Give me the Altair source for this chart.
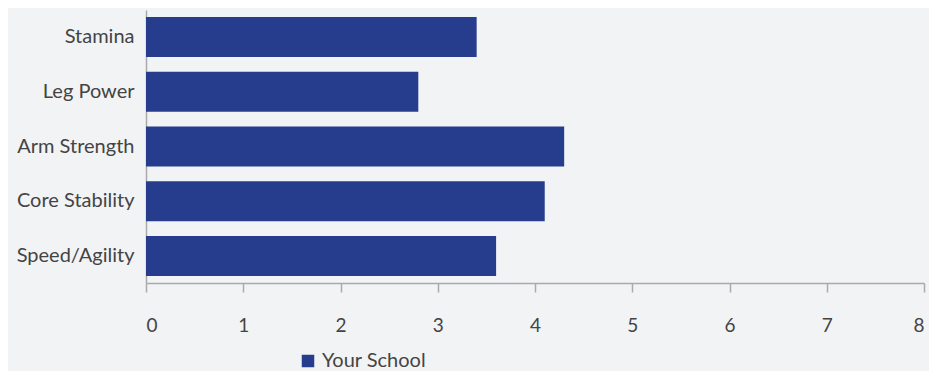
import altair as alt
import pandas as pd

categories = ["Stamina", "Leg Power", "Arm Strength", "Core Stability", "Speed/Agility"]
values = [3.4, 2.8, 4.3, 4.1, 3.6]
series = ["Your School"] * len(categories)

df = pd.DataFrame({"category": categories, "value": values, "series": series})

FONT = "Lato"
TXT = "#444444"
GRID = "#aaaaaa"

chart = alt.Chart(df).mark_bar(color="#253D8C").encode(
    y=alt.Y("category:N", sort=categories, title=None,
            scale=alt.Scale(paddingInner=0.27, paddingOuter=0.13),
            axis=alt.Axis(ticks=False, labelPadding=12, labelFontSize=20, labelColor=TXT,
                          labelFont=FONT, domainColor=GRID, domainWidth=1.5)),
    x=alt.X("value:Q", title=None, scale=alt.Scale(domain=[0, 8]),
            axis=alt.Axis(values=list(range(9)), grid=False, tickSize=9, tickColor=GRID,
                          tickWidth=1.5, domainColor=GRID, domainWidth=1.5,
                          labelPadding=24, labelFontSize=19, labelColor=TXT, labelFont=FONT)),
    fill=alt.Fill("series:N", scale=alt.Scale(range=["#253D8C"]),
                  legend=alt.Legend(title=None, orient="none", legendX=152, legendY=341,
                                    symbolType="square", symbolSize=156, labelFontSize=20,
                                    labelFont=FONT, labelColor=TXT, symbolStrokeWidth=0)),
).properties(
    width=778, height=273, background="#f2f3f5",
    padding={"left": 138, "top": 2, "right": 5, "bottom": 88},
    autosize=alt.AutoSizeParams(type="none"),
).configure_view(stroke=None)

chart.save("out.html", embed_options={"renderer": "svg", "actions": False})
